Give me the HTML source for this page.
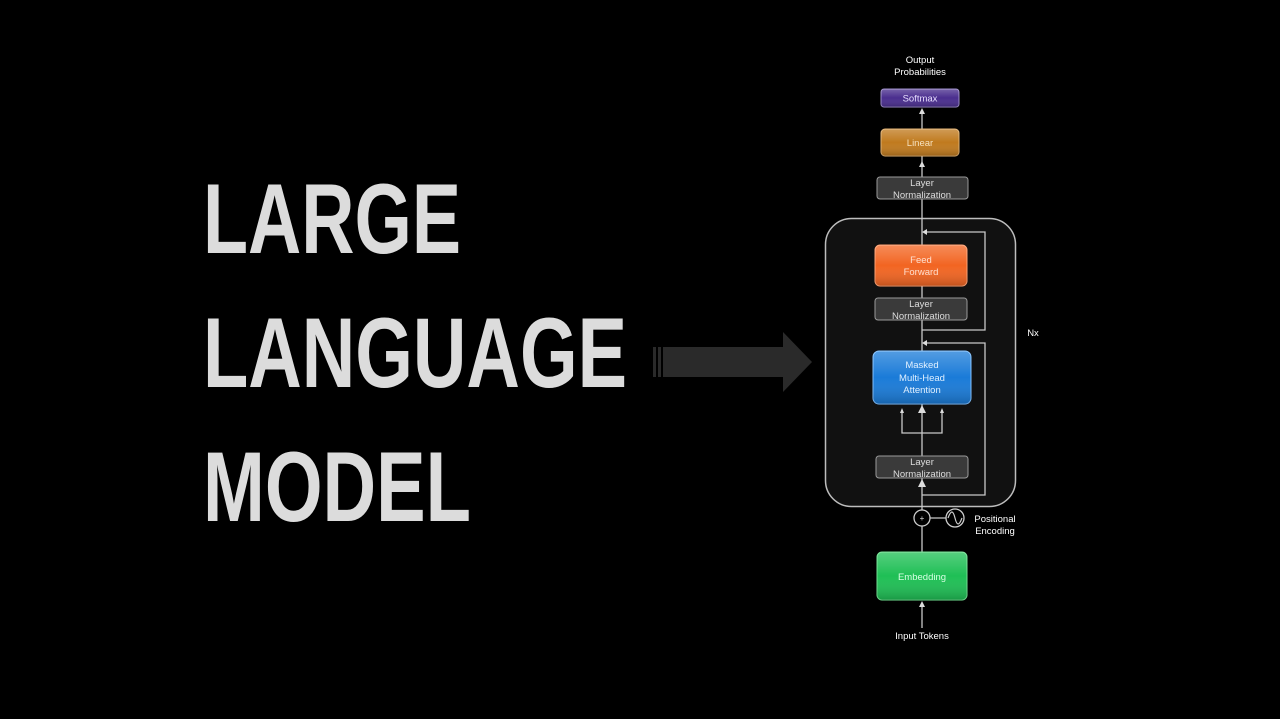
<!DOCTYPE html>
<html><head><meta charset="utf-8"><style>
html,body{margin:0;padding:0;background:#000;}
svg{display:block}
</style></head><body>
<svg width="1280" height="719" viewBox="0 0 1280 719" xmlns="http://www.w3.org/2000/svg">
<defs>
<linearGradient id="sh" x1="0" y1="0" x2="0" y2="1">
<stop offset="0" stop-color="#fff" stop-opacity="0.25"/>
<stop offset="0.5" stop-color="#fff" stop-opacity="0"/>
<stop offset="1" stop-color="#000" stop-opacity="0.2"/>
</linearGradient>
</defs>
<rect width="1280" height="719" fill="#000"/>
<g font-family="Liberation Sans Narrow, Liberation Sans, sans-serif" font-weight="bold" font-size="99" fill="#dcdcdc">
<text x="203" y="253" textLength="258" lengthAdjust="spacingAndGlyphs">LARGE</text>
<text x="203" y="387" textLength="424" lengthAdjust="spacingAndGlyphs">LANGUAGE</text>
<text x="203" y="521" textLength="268" lengthAdjust="spacingAndGlyphs">MODEL</text>
</g>
<g fill="#2a2a2a">
<rect x="653" y="347" width="3" height="30"/>
<rect x="658" y="347" width="3" height="30"/>
<rect x="663" y="347" width="122" height="30"/>
<polygon points="783,332 812,362 783,392"/>
</g>
<rect x="825.5" y="218.5" width="190" height="288" rx="26" fill="#111" stroke="#bdbdbd" stroke-width="1.5"/>
<g stroke="#c8c8c8" stroke-width="1.3" fill="none">
<line x1="922" y1="552" x2="922" y2="111"/>
<line x1="922" y1="628" x2="922" y2="604"/>
<polyline points="922,330 985,330 985,232 925,232"/>
<polyline points="922,495 985,495 985,343 925,343"/>
<polyline points="902,412 902,433 942,433 942,412"/>
<line x1="955" y1="518" x2="930" y2="518"/>
</g>
<g fill="#ddd">
<polygon points="922,108 919,114 925,114"/>
<polygon points="922,161 919,167 925,167"/>
<polygon points="922,232 927,229 927,235"/>
<polygon points="922,343 927,340 927,346"/>
<polygon points="922,405 918,413 926,413"/>
<polygon points="902,408 900,413 904,413"/>
<polygon points="942,408 940,413 944,413"/>
<polygon points="922,479 918,487 926,487"/>
<polygon points="922,601 919,607 925,607"/>
</g>
<g font-family="Liberation Sans, sans-serif" font-size="9.5" fill="#fff" text-anchor="middle">
<rect x="881" y="89" width="78" height="18" rx="3" fill="#4a2e8e" stroke="#9a8ac8"/>
<rect x="881" y="89" width="78" height="18" rx="3" fill="url(#sh)"/>
<text x="920" y="101.5" fill="#e8e0ff">Softmax</text>
<rect x="881" y="129" width="78" height="27" rx="4" fill="#c07a1e" stroke="#e0b070"/>
<rect x="881" y="129" width="78" height="27" rx="4" fill="url(#sh)"/>
<text x="920" y="146" fill="#f6e2c0">Linear</text>
<rect x="877" y="177" width="91" height="22" rx="3" fill="#3a3a3a" stroke="#9a9a9a"/>
<text x="922" y="186" fill="#ddd">Layer</text>
<text x="922" y="198" fill="#ddd">Normalization</text>
<rect x="875" y="245" width="92" height="41" rx="5" fill="#f26522" stroke="#ffa070"/>
<rect x="875" y="245" width="92" height="41" rx="5" fill="url(#sh)"/>
<text x="921" y="263" fill="#ffe0d0">Feed</text>
<text x="921" y="275" fill="#ffe0d0">Forward</text>
<rect x="875" y="298" width="92" height="22" rx="3" fill="#3a3a3a" stroke="#9a9a9a"/>
<text x="921" y="307" fill="#ddd">Layer</text>
<text x="921" y="319" fill="#ddd">Normalization</text>
<rect x="873" y="351" width="98" height="53" rx="6" fill="#1a7bd8" stroke="#80c0ff"/>
<rect x="873" y="351" width="98" height="53" rx="6" fill="url(#sh)"/>
<text x="922" y="368" fill="#e0f0ff">Masked</text>
<text x="922" y="381" fill="#e0f0ff">Multi-Head</text>
<text x="922" y="393" fill="#e0f0ff">Attention</text>
<rect x="876" y="456" width="92" height="22" rx="3" fill="#3a3a3a" stroke="#9a9a9a"/>
<text x="922" y="465" fill="#ddd">Layer</text>
<text x="922" y="477" fill="#ddd">Normalization</text>
<rect x="877" y="552" width="90" height="48" rx="5" fill="#1fbf55" stroke="#70e090"/>
<rect x="877" y="552" width="90" height="48" rx="5" fill="url(#sh)"/>
<text x="922" y="580" fill="#d8ffe4">Embedding</text>
<text x="920" y="63">Output</text>
<text x="920" y="75">Probabilities</text>
<text x="922" y="639">Input Tokens</text>
<text x="995" y="522">Positional</text>
<text x="995" y="534">Encoding</text>
<text x="1033" y="336">Nx</text>
</g>
<circle cx="922" cy="518" r="8" fill="#000" stroke="#ccc" stroke-width="1.3"/>
<text x="922" y="521" font-family="Liberation Sans, sans-serif" font-size="8" fill="#ddd" text-anchor="middle">+</text>
<circle cx="955" cy="518" r="9" fill="#000" stroke="#ccc" stroke-width="1.3"/>
<path d="M948,518 C951,510 953,510 955,518 C957,526 959,526 962,518" fill="none" stroke="#ccc" stroke-width="1.2"/>
</svg>
</body></html>
